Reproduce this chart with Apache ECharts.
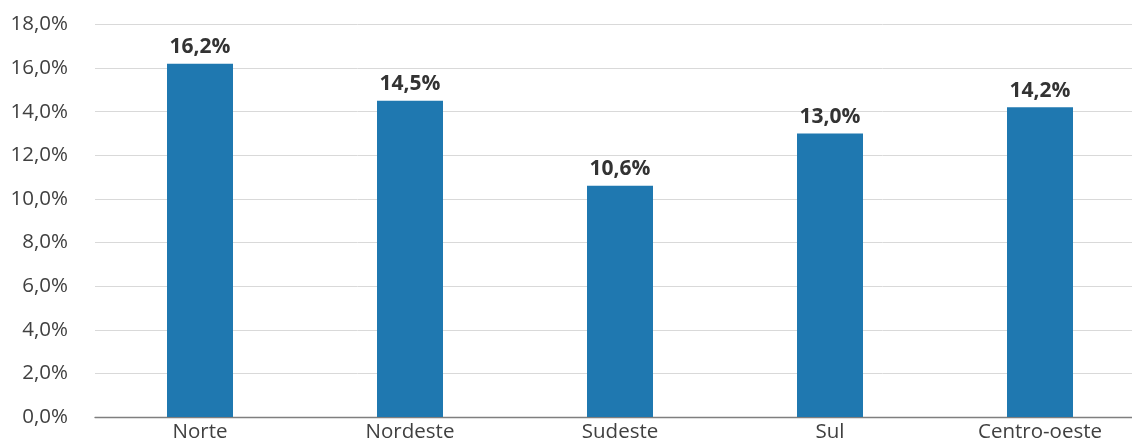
<!DOCTYPE html>
<html><head><meta charset="utf-8">
<script src="https://cdn.jsdelivr.net/npm/echarts@6/dist/echarts.min.js"></script>
<style>html,body{margin:0;padding:0;background:#fff;overflow:hidden}#w{width:1132px;height:443px;overflow:hidden;position:relative}#c{width:1145px;height:443px;position:absolute;left:0;top:0}</style>
</head><body><div id="w"><div id="c"></div></div>
<script>
const categories = ["Norte", "Nordeste", "Sudeste", "Sul", "Centro-oeste"];
const values = [16.2, 14.5, 10.6, 13.0, 14.2];
const fmt = v => v.toFixed(1).replace('.', ',') + '%';
const chart = echarts.init(document.getElementById('c'));
chart.setOption({
  animation: false,
  textStyle: { fontFamily: "Open Sans" },
  grid: { left: 95, top: 24.5, right: 0, bottom: 22, containLabel: false },
  xAxis: {
    type: 'category', data: categories,
    axisLine: { lineStyle: { color: '#7f7f7f', width: 1.3 } },
    axisTick: { show: false },
    axisLabel: { color: '#404040', fontSize: 20.5, margin: 5, fontFamily: "Open Sans" }
  },
  yAxis: {
    type: 'value', min: 0, max: 18, interval: 2,
    axisLine: { show: false }, axisTick: { show: false },
    splitLine: { lineStyle: { color: '#d9d9d9', width: 1 } },
    axisLabel: { formatter: fmt, color: '#404040', fontSize: 20.5, margin: 27, fontFamily: "Open Sans" }
  },
  series: [{
    type: 'bar', data: values, barWidth: 66,
    itemStyle: { color: '#1f78b0' },
    label: { show: true, position: 'top', distance: 6, formatter: p => fmt(p.value),
      color: '#333333', fontWeight: 'bold', fontSize: 21, fontFamily: "Open Sans" }
  }]
});
</script></body></html>
